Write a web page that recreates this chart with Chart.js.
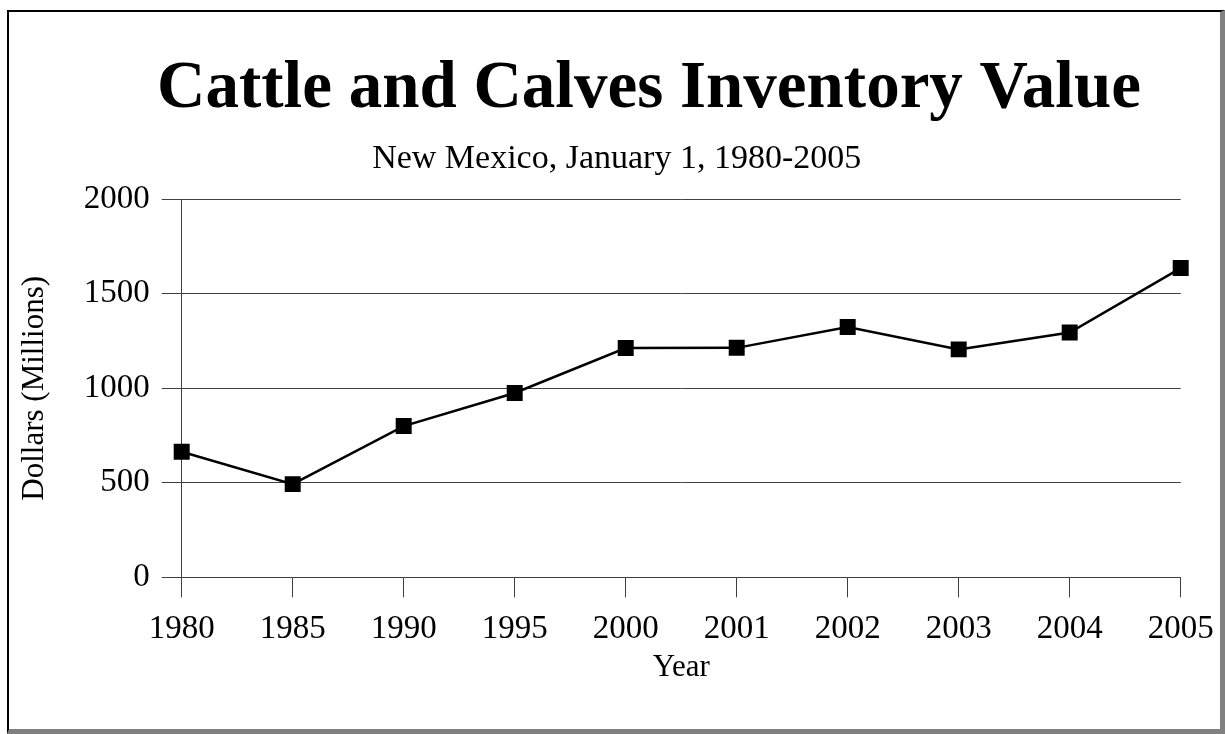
<!DOCTYPE html>
<html>
<head>
<meta charset="utf-8">
<script src="https://cdn.jsdelivr.net/npm/chart.js@4"></script>
<style>
  html, body { margin: 0; padding: 0; background: #ffffff; }
  body { width: 1225px; height: 734px; position: relative; overflow: hidden; }
  #frame {
    position: absolute; left: 7px; top: 10px;
    width: 1211px; height: 717px;
    border-left: 2px solid #000; border-top: 2px solid #000;
    border-right: 5px solid #808080; border-bottom: 5px solid #808080;
    background: #fff;
  }
  canvas { display: block; }
</style>
</head>
<body>
<div id="frame"><canvas id="c" width="1211" height="717"></canvas></div>
<script>
// ---- data ----
const years = ['1980', '1985', '1990', '1995', '2000', '2001', '2002', '2003', '2004', '2005'];
const inventoryValue = [664, 493, 800, 975, 1213, 1214, 1324, 1206, 1295, 1636];
const yTicks = [0, 500, 1000, 1500, 2000];
const titleText = 'Cattle and Calves Inventory Value';
const subtitleText = 'New Mexico, January 1, 1980-2005';
const xTitle = 'Year';
const yTitle = 'Dollars (Millions)';

const SERIF = '"Liberation Serif", "Times New Roman", Times, serif';
const GRID = '#404040';

// Draws the chart title and subtitle as canvas text.
const headingPlugin = {
  id: 'heading',
  afterDraw(chart) {
    const ctx = chart.ctx;
    ctx.save();
    ctx.fillStyle = '#000';
    ctx.textAlign = 'center';
    ctx.textBaseline = 'alphabetic';
    ctx.font = 'bold 67px ' + SERIF;
    ctx.fillText(titleText, 640, 94.7);
    ctx.font = '34px ' + SERIF;
    ctx.fillText(subtitleText, 607.7, 155.5);
    ctx.restore();
  }
};

new Chart(document.getElementById('c'), {
  type: 'line',
  data: {
    labels: years,
    datasets: [{
      data: inventoryValue,
      borderColor: '#000',
      borderWidth: 2.5,
      backgroundColor: '#000',
      pointStyle: 'rect',
      pointRadius: 11.3,
      pointBorderWidth: 0,
      pointBackgroundColor: '#000',
      tension: 0,
      fill: false
    }]
  },
  plugins: [headingPlugin],
  options: {
    responsive: false,
    animation: false,
    devicePixelRatio: 1,
    layout: { padding: { top: 187.3, left: 0, right: 39.3, bottom: 46 } },
    plugins: {
      legend: { display: false },
      tooltip: { enabled: false },
      title: { display: false },
      subtitle: { display: false }
    },
    scales: {
      x: {
        type: 'category',
        offset: false,
        grid: { display: true, drawOnChartArea: false, drawTicks: true, tickLength: 20, color: GRID, lineWidth: 1 },
        border: { display: true, color: GRID, width: 1 },
        ticks: { color: '#000', padding: 12, maxRotation: 0, autoSkip: false,
                 font: { family: SERIF, size: 33, lineHeight: 1.2 } },
        title: { display: true, text: xTitle, color: '#000',
                 font: { family: SERIF, size: 31, lineHeight: 1.0 },
                 padding: { top: 3.1, bottom: 0 } },
        afterFit: (axis) => { axis.height = 105.7; axis.paddingLeft = 0; axis.paddingRight = 0; }
      },
      y: {
        min: 0, max: 2000,
        afterBuildTicks: (axis) => { axis.ticks = yTicks.map(v => ({ value: v })); },
        grid: { display: true, drawOnChartArea: true, drawTicks: true, tickLength: 20, color: GRID, lineWidth: 1 },
        border: { display: true, color: GRID, width: 1 },
        ticks: { color: '#000', padding: 12, callback: (v) => String(v),
                 font: { family: SERIF, size: 33, lineHeight: 1.2 } },
        title: { display: true, text: yTitle, color: '#000',
                 font: { family: SERIF, size: 31, lineHeight: 1.0 },
                 padding: { top: 10, bottom: 0 } },
        afterFit: (axis) => { axis.width = 172.7; axis.paddingTop = 0; axis.paddingBottom = 0; }
      }
    }
  }
});
</script>
</body>
</html>
